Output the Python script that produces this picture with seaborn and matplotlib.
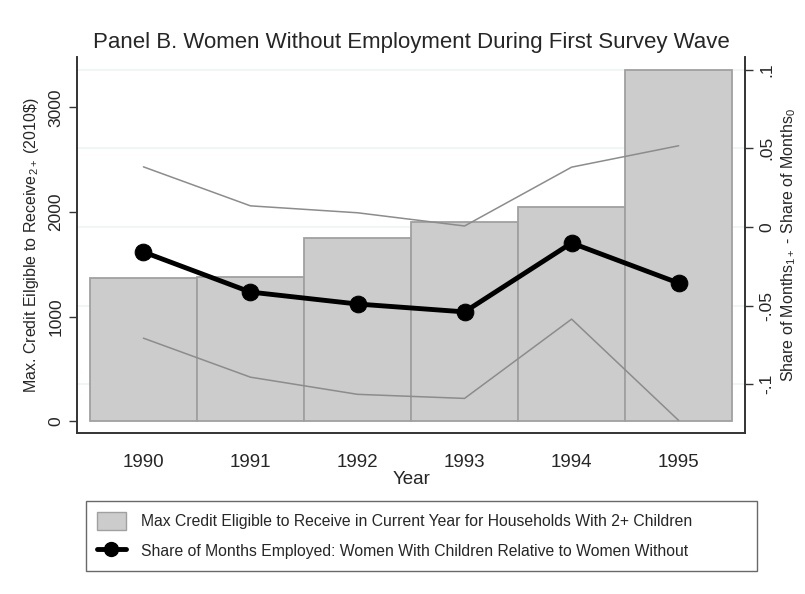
import numpy as np
import pandas as pd
import seaborn as sns
import matplotlib.pyplot as plt
from matplotlib.patches import Patch
from matplotlib.lines import Line2D

years = [1990, 1991, 1992, 1993, 1994, 1995]
max_credit = [1368, 1378, 1751, 1904, 2048, 3359]
share_diff = [-0.0159, -0.0414, -0.049, -0.054, -0.0102, -0.0357]
ci_upper = [0.0382, 0.0134, 0.009, 0.0006, 0.038, 0.0516]
ci_lower = [-0.0707, -0.0955, -0.1064, -0.109, -0.0586, -0.123]

left_ticks = [0, 1000, 2000, 3000]
right_ticks = [-0.1, -0.05, 0, 0.05, 0.1]
right_tick_labels = ["-.1", "-.05", "0", ".05", ".1"]

sns.set_style("white")
plt.rcParams["font.family"] = ["Liberation Sans", "DejaVu Sans"]
plt.rcParams["mathtext.fontset"] = "custom"
plt.rcParams["mathtext.rm"] = "Liberation Sans"
plt.rcParams["mathtext.it"] = "Liberation Sans"

df = pd.DataFrame({"year": years, "credit": max_credit, "diff": share_diff,
                   "hi": ci_upper, "lo": ci_lower})

LEFT_LIM = (-115, 3483)
RIGHT_LIM = (-0.131, 0.108)
XLIM = (1989.38, 1995.62)

fig = plt.figure(figsize=(8.05, 5.94), dpi=100)
ax = fig.add_axes([0.0957, 0.271, 0.8298, 0.633])

# light horizontal grid at the right-axis ticks, drawn behind the bars
for t in right_ticks:
    yv = (t - RIGHT_LIM[0]) / (RIGHT_LIM[1] - RIGHT_LIM[0]) * (LEFT_LIM[1] - LEFT_LIM[0]) + LEFT_LIM[0]
    ax.axhline(yv, color="#eef3f5", linewidth=1.2, zorder=0)

sns.barplot(data=df, x="year", y="credit", native_scale=True, width=1.0,
            color="#cccccc", saturation=1, edgecolor="#a0a0a0", linewidth=1.3,
            ax=ax, zorder=2)
ax.set_xlim(*XLIM)
ax.set_ylim(*LEFT_LIM)
ax.set_yticks(left_ticks)
ax.set_yticklabels([str(t) for t in left_ticks], rotation=90, va="center", fontsize=12.5)
ax.set_xticks(years)
ax.set_xticklabels([str(y) for y in years], fontsize=13.5)
ax.set_xlabel("Year", fontsize=13.5, labelpad=0)
ax.set_ylabel(r"Max. Credit Eilgible to Receive$_{2+}$ (2010\$)", fontsize=11.5, labelpad=5)
ax.tick_params(axis="both", direction="out", length=6, width=1, color="#333333", pad=4)
ax.tick_params(axis="x", pad=9)

ax2 = ax.twinx()
ax2.set_ylim(*RIGHT_LIM)
ax2.patch.set_visible(False)

sns.lineplot(data=df, x="year", y="hi", color="#8c8c8c", linewidth=1.1, ax=ax2)
sns.lineplot(data=df, x="year", y="lo", color="#8c8c8c", linewidth=1.1, ax=ax2)
sns.lineplot(data=df, x="year", y="diff", color="black", linewidth=3.5,
             marker="o", markersize=12, markeredgecolor="black", ax=ax2)
ax2.set_xlim(*XLIM)
ax2.set_yticks(right_ticks)
ax2.set_yticklabels(right_tick_labels, rotation=90, va="center", fontsize=12.5)
ax2.set_ylabel(r"Share of Months$_{1+}$ - Share of Months$_0$", fontsize=11.5, labelpad=4)
ax2.tick_params(axis="y", direction="out", length=6, width=1, color="#333333", pad=4)

for a in (ax, ax2):
    for s in ("left", "right", "bottom"):
        a.spines[s].set_color("#333333")
        a.spines[s].set_linewidth(1.2)
    a.spines["top"].set_visible(False)

fig.suptitle("Panel B. Women Without Employment During First Survey Wave",
             fontsize=16, x=0.511, y=0.928, va="center")

handles = [
    Patch(facecolor="#cccccc", edgecolor="#a0a0a0", linewidth=1.0),
    Line2D([0], [0], color="black", linewidth=3.5, marker="o", markersize=10),
]
labels = [
    "Max Credit Eligible to Receive in Current Year for Households With 2+ Children",
    "Share of Months Employed: Women With Children Relative to Women Without",
]
leg = fig.legend(handles, labels, loc="center",
                 bbox_to_anchor=(0.1068, 0.037, 0.8335, 0.121), mode="expand",
                 frameon=True, fancybox=False, fontsize=11.3, handlelength=1.85,
                 handleheight=1.4, borderpad=0.7, borderaxespad=0.0,
                 labelspacing=0.75, handletextpad=0.95, edgecolor="#444444")
leg.get_frame().set_linewidth(1.0)

fig.savefig("out.png", dpi=100)
